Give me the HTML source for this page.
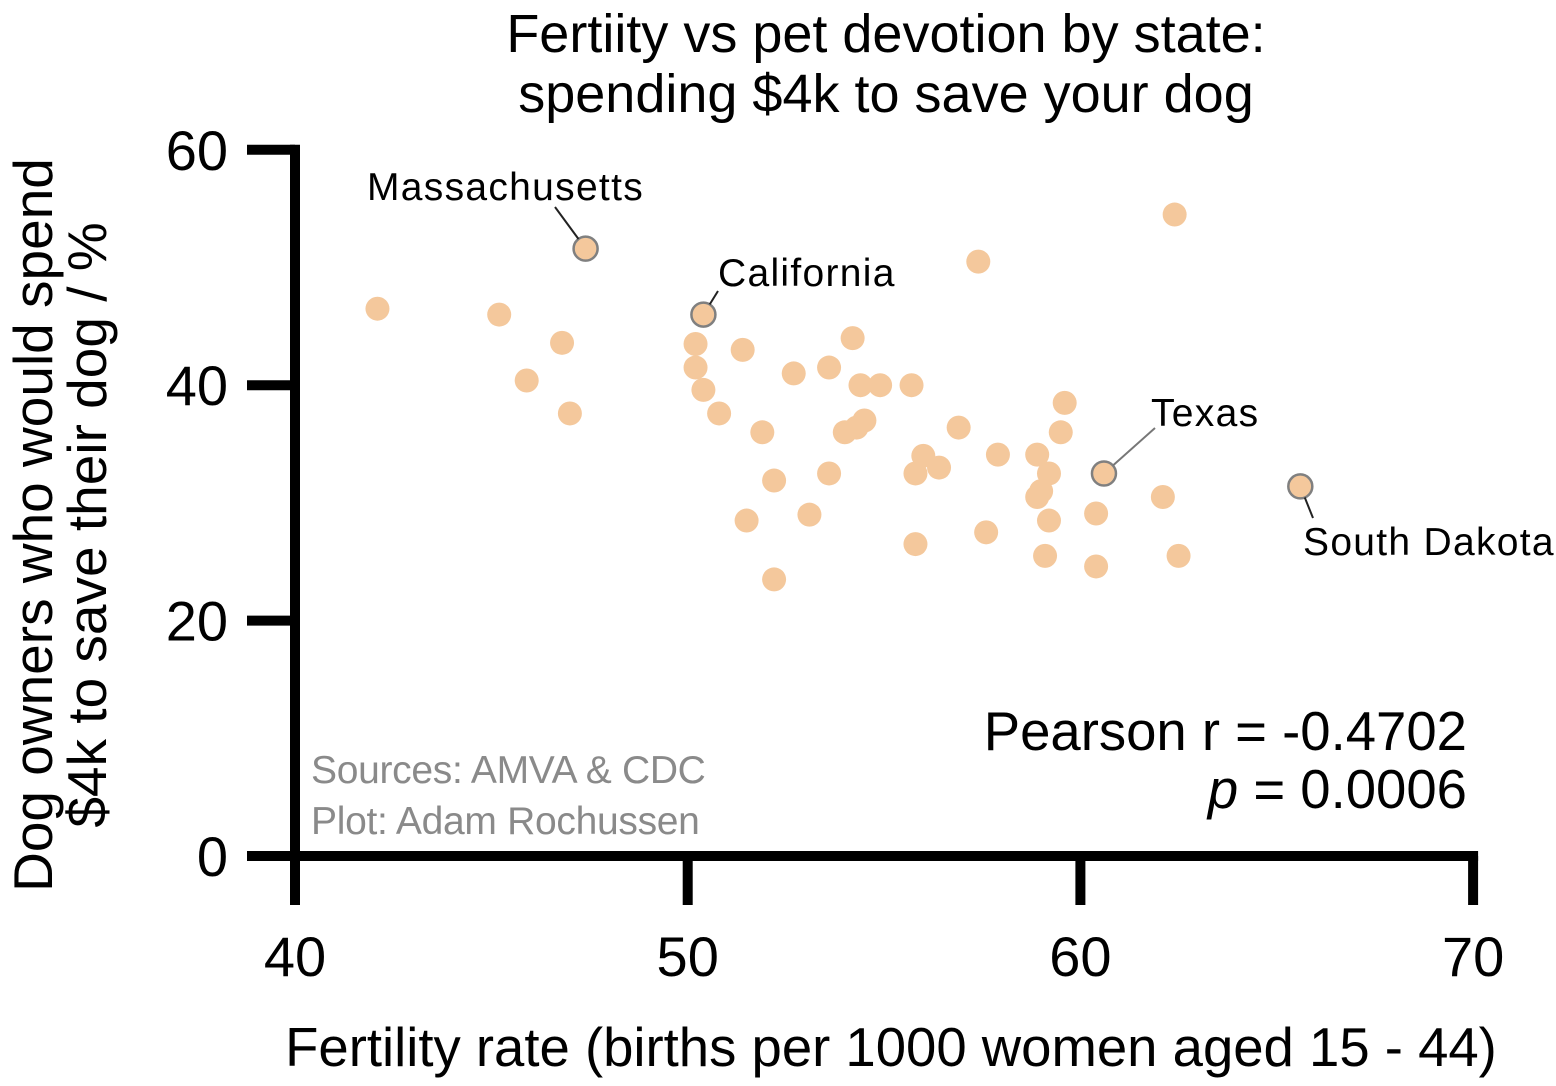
<!DOCTYPE html>
<html><head><meta charset="utf-8"><style>
body{margin:0;background:#fff}
svg{display:block;font-family:"Liberation Sans",Arial,sans-serif}
</style></head><body>
<svg id="chart" width="1556" height="1086" viewBox="0 0 1556 1086">
<g id="dots"></g>
<g id="axes"></g>
<text x="886" y="52" font-size="54" text-anchor="middle">Fertiity vs pet devotion by state:</text>
<text x="886" y="112" font-size="54" text-anchor="middle">spending $4k to save your dog</text>
<text transform="translate(52,525) rotate(-90)" font-size="55" text-anchor="middle">Dog owners who would spend</text>
<text transform="translate(106,525) rotate(-90)" font-size="55" text-anchor="middle">$4k to save their dog / %</text>
<text x="891" y="1066" font-size="54.5" text-anchor="middle">Fertility rate (births per 1000 women aged 15 - 44)</text>
<text x="1467" y="750" font-size="54.5" text-anchor="end">Pearson r = -0.4702</text>
<text x="1467" y="808" font-size="54.5" text-anchor="end"><tspan font-style="italic">p</tspan> = 0.0006</text>
<text x="311" y="783" font-size="39" fill="#8a8a8a" letter-spacing="-0.3">Sources: AMVA &amp; CDC</text>
<text x="311" y="834" font-size="39" fill="#8a8a8a" letter-spacing="-0.3">Plot: Adam Rochussen</text>
</svg>
<script>
const fertility=[42.1,45.2,45.9,46.8,47.0,47.4,50.4,50.2,50.2,50.4,50.8,51.4,51.9,51.5,52.2,52.2,52.7,53.1,53.6,53.6,54.2,54.0,54.3,54.5,54.4,54.9,55.7,55.8,56.0,55.8,56.4,56.9,57.4,57.6,57.9,58.9,59.0,58.9,59.2,59.2,59.1,59.5,59.6,60.6,60.4,60.4,62.1,62.4,62.5,65.6];
const spend=[46.5,46.0,40.4,43.6,37.6,51.6,46.0,43.5,41.5,39.6,37.6,43.0,36.0,28.5,31.9,23.5,41.0,29.0,41.5,32.5,44.0,36.0,36.4,37.0,40.0,40.0,40.0,32.5,34.0,26.5,33.0,36.4,50.5,27.5,34.1,34.1,31.0,30.5,32.5,28.5,25.5,36.0,38.5,32.5,29.1,24.6,30.5,54.5,25.5,31.4];
const labels=[{i:5,name:"Massachusetts",tx:367,ty:200,lx:555,ly:207},{i:6,name:"California",tx:718,ty:286,lx:718,ly:291},{i:43,name:"Texas",tx:1151,ty:426,lx:1155,ly:428},{i:49,name:"South Dakota",tx:1303,ty:555,lx:1313,ly:518}];
const xTicks=[40,50,60,70];
const yTicks=[0,20,40,60];
const X=v=>295+(v-40)*39.27;
const Y=v=>856-v*11.77;
const NS="http://www.w3.org/2000/svg";
function mk(t,a,p){const e=document.createElementNS(NS,t);for(const k in a)e.setAttribute(k,a[k]);p.appendChild(e);return e;}
const dots=document.getElementById('dots'),axes=document.getElementById('axes'),svg=document.getElementById('chart');
const lab=new Set(labels.map(l=>l.i));
fertility.forEach((f,i)=>{
 const c=mk('circle',{cx:X(f),cy:Y(spend[i]),r:12,fill:'#f4c89c'},dots);
 if(lab.has(i)){c.setAttribute('stroke','#808080');c.setAttribute('stroke-width','2.5');}
 
 
});
labels.forEach(l=>{
 const cx=X(fertility[l.i]),cy=Y(spend[l.i]);
 const dx=l.lx-cx,dy=l.ly-cy,d=Math.hypot(dx,dy);
 const ln=mk('line',{x1:cx+dx/d*12,y1:cy+dy/d*12,x2:l.lx,y2:l.ly,stroke:l.i==43?'#777':'#222','stroke-width':2},svg);
 
 
 const t=mk('text',{x:l.tx,y:l.ty,'font-size':39,'letter-spacing':1.3},svg);t.textContent=l.name;
 
 
});
const ya=mk('line',{x1:X(40),y1:Y(60)-5,x2:X(40),y2:905,stroke:'#000','stroke-width':10},axes);


const xa=mk('line',{x1:247,y1:Y(0),x2:X(70)+5,y2:Y(0),stroke:'#000','stroke-width':10},axes);


yTicks.forEach(v=>{
 const t=mk('line',{x1:247,y1:Y(v),x2:X(40),y2:Y(v),stroke:'#000','stroke-width':10},axes);
 
 
 const l=mk('text',{x:228,y:Y(v)+20,'font-size':56,'text-anchor':'end'},axes);l.textContent=v;
 
 
});
xTicks.forEach(v=>{
 const t=mk('line',{x1:X(v),y1:Y(0),x2:X(v),y2:905,stroke:'#000','stroke-width':10},axes);
 
 
 const l=mk('text',{x:X(v),y:976,'font-size':56,'text-anchor':'middle'},axes);l.textContent=v;
 
 
});
</script>
</body></html>
